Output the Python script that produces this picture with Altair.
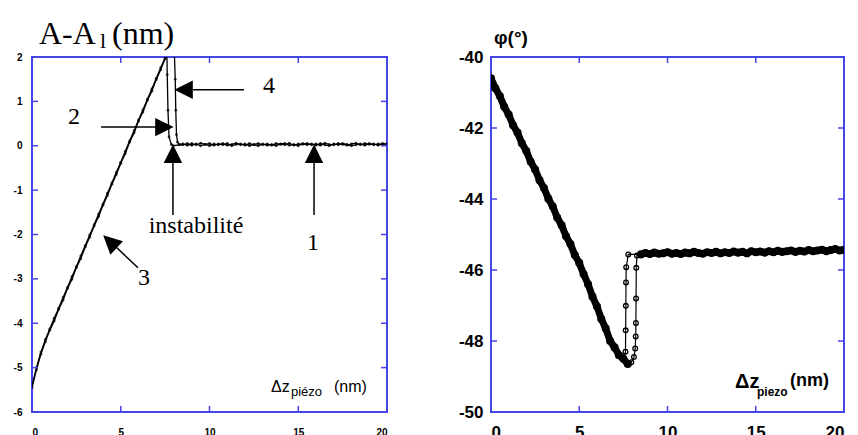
import altair as alt
import pandas as pd

# ---------------- data: left panel  (A - A1 in nm vs Δz piezo in nm) ----------------
ramp_x = [0.0, 0.25, 0.5, 0.75, 1.0, 1.25, 1.5, 1.75, 2.0, 2.25,
          2.5, 2.75, 3.0, 3.25, 3.5, 3.75, 4.0, 4.25, 4.5, 4.75,
          5.0, 5.25, 5.5, 5.75, 6.0, 6.25, 6.5, 6.75, 7.0, 7.25,
          7.5, 7.75]
amp_approach_ramp = [-5.45, -5.05, -4.70, -4.42, -4.16, -3.95, -3.69, -3.48, -3.22, -3.01,
                     -2.75, -2.54, -2.28, -2.06, -1.81, -1.60, -1.34, -1.12, -0.87, -0.65,
                     -0.40, -0.18, 0.08, 0.29, 0.55, 0.76, 1.02, 1.23, 1.49, 1.71,
                     1.96, 2.19]
amp_retract_ramp = [-5.41, -5.00, -4.65, -4.37, -4.13, -3.89, -3.66, -3.42, -3.19, -2.95,
                    -2.72, -2.48, -2.25, -2.01, -1.78, -1.54, -1.31, -1.07, -0.84, -0.60,
                    -0.37, -0.13, 0.11, 0.34, 0.58, 0.81, 1.05, 1.28, 1.52, 1.76,
                    1.99, 2.22]
amp_approach_jump_x = [7.9, 8.02, 8.07, 8.1, 8.14, 8.2, 8.3]
amp_approach_jump_y = [2.35, 2.10, 1.50, 0.80, 0.25, 0.08, 0.03]
amp_retract_jump_x = [8.3, 7.95, 7.85, 7.72, 7.66, 7.62, 7.6]
amp_retract_jump_y = [0.02, 0.00, 0.03, 0.20, 0.80, 1.60, 2.05]
flat_x = [8.5, 8.75, 9.0, 9.25, 9.5, 9.75, 10.0, 10.25, 10.5, 10.75,
          11.0, 11.25, 11.5, 11.75, 12.0, 12.25, 12.5, 12.75, 13.0, 13.25,
          13.5, 13.75, 14.0, 14.25, 14.5, 14.75, 15.0, 15.25, 15.5, 15.75,
          16.0, 16.25, 16.5, 16.75, 17.0, 17.25, 17.5, 17.75, 18.0, 18.25,
          18.5, 18.75, 19.0, 19.25, 19.5, 19.75, 20.0]
amp_approach_flat = [0.04, 0.01, 0.05, 0.02, 0.06, 0.03, 0.00, 0.04, 0.02, 0.05,
                     0.01, 0.03, 0.06, 0.02, 0.04, 0.00, 0.03, 0.05, 0.02, 0.04,
                     0.01, 0.05, 0.03, 0.02, 0.06, 0.01, 0.04, 0.03, 0.05, 0.02,
                     0.04, 0.01, 0.06, 0.03, 0.02, 0.05, 0.03, 0.01, 0.04, 0.06,
                     0.02, 0.05, 0.03, 0.04, 0.01, 0.05, 0.03]
amp_retract_flat = [0.02, 0.05, 0.01, 0.04, 0.00, 0.03, 0.05, 0.01, 0.04, 0.02,
                    0.05, 0.00, 0.03, 0.04, 0.01, 0.05, 0.02, 0.00, 0.04, 0.01,
                    0.03, 0.00, 0.04, 0.05, 0.01, 0.03, 0.00, 0.05, 0.02, 0.04,
                    0.01, 0.05, 0.02, 0.00, 0.04, 0.02, 0.05, 0.03, 0.00, 0.02,
                    0.04, 0.01, 0.05, 0.02, 0.04, 0.03, 0.05]

# ---------------- data: right panel  (phase φ in degrees) ----------------
phi_ramp = [-40.60, -40.88, -41.10, -41.40, -41.62, -41.92, -42.13, -42.43, -42.65, -42.95,
            -43.17, -43.47, -43.69, -43.99, -44.21, -44.52, -44.74, -45.05, -45.27, -45.58,
            -45.80, -46.12, -46.40, -46.75, -47.02, -47.38, -47.65, -48.00, -48.18, -48.40,
            -48.50, -48.65]
phi_flat = [-45.56, -45.52, -45.55, -45.51, -45.54, -45.53, -45.50, -45.54, -45.52, -45.55,
            -45.51, -45.53, -45.49, -45.52, -45.54, -45.50, -45.52, -45.49, -45.53, -45.50,
            -45.52, -45.48, -45.51, -45.49, -45.53, -45.47, -45.50, -45.48, -45.51, -45.47,
            -45.50, -45.46, -45.49, -45.47, -45.45, -45.49, -45.46, -45.48, -45.44, -45.47,
            -45.45, -45.43, -45.47, -45.44, -45.41, -45.45, -45.43]
phi_approach_jump_x = [7.77, 7.95, 8.1, 8.17, 8.2, 8.21, 8.22, 8.23, 8.27, 8.5]
phi_approach_jump_y = [-48.65, -48.60, -48.45, -48.21, -47.87, -47.49, -46.80, -45.94, -45.59, -45.56]
phi_retract_jump_x = [7.55, 7.62, 7.63, 7.64, 7.65, 7.66, 7.78, 8.5]
phi_retract_jump_y = [-48.50, -48.30, -47.70, -47.01, -46.35, -45.92, -45.56, -45.56]

x_ticks = [0, 5, 10, 15, 20]
amp_ticks = [-6, -5, -4, -3, -2, -1, 0, 1, 2]
phi_ticks = [-50, -48, -46, -44, -42, -40]

# annotations of the left panel (data coordinates)
arrow_x = [11.94, 3.89, 7.94, 15.89, 5.97]
arrow_y = [1.26, 0.42, -1.56, -1.56, -2.75]
arrow_x2 = [9.07, 6.99, 7.94, 15.89, 4.78]
arrow_y2 = [1.26, 0.42, -0.39, -0.39, -2.30]
head_x = [8.54, 7.46, 7.94, 15.89, 4.39]
head_y = [1.26, 0.42, -0.18, -0.18, -2.16]
head_angle = [270, 90, 0, 0, 313]
label_text = ["4", "2", "instabilité", "1", "3"]
label_x = [13.35, 2.37, 9.24, 15.83, 6.31]
label_y = [1.35, 0.65, -1.81, -2.19, -2.98]

# ---------------- style ----------------
SANS = "Liberation Sans"
SERIF = "Liberation Serif"
BLUE = "#4646e6"
W1, W2, H = 355, 353, 355
HEAD = "M0,-1L1,1L-1,1Z"

dummy = pd.DataFrame({"k": [0]})


def make_axes(fs, ypad, xpad, ext, yvals):
    ax = alt.Axis(values=x_ticks, ticks=False, domain=False, grid=False, title=None,
                  labelFont=SANS, labelFontWeight="bold", labelFontSize=fs,
                  labelPadding=xpad, labelColor="black", labelExpr="'' + datum.value")
    ay = alt.Axis(values=yvals, ticks=False, domain=False, grid=False, title=None,
                  labelFont=SANS, labelFontWeight="bold", labelFontSize=fs,
                  labelPadding=ypad, labelColor="black", minExtent=ext, maxExtent=ext,
                  labelExpr="'' + datum.value")
    return ax, ay


def tick_layers(ys, sx, sy, ax, ay, W):
    tx = pd.DataFrame({"t": x_ticks})
    ty = pd.DataFrame({"t": ys})
    base_x = alt.Chart(tx).mark_rule(color=BLUE, strokeWidth=1.5)
    base_y = alt.Chart(ty).mark_rule(color=BLUE, strokeWidth=1.5)
    X = alt.X("t:Q", scale=sx, axis=ax)
    Y = alt.Y("t:Q", scale=sy, axis=ay)
    return [
        base_x.encode(x=X, y=alt.value(H), y2=alt.value(H - 6)),
        base_x.encode(x=X, y=alt.value(0), y2=alt.value(6)),
        base_y.encode(y=Y, x=alt.value(0), x2=alt.value(6)),
        base_y.encode(y=Y, x=alt.value(W), x2=alt.value(W - 6)),
    ]


# ---------------- left panel ----------------
rows = []
o = 0
for xv, yv in zip(ramp_x, amp_approach_ramp):
    rows.append(("aller", o, xv, yv)); o += 1
for xv, yv in zip(amp_approach_jump_x, amp_approach_jump_y):
    rows.append(("aller", o, xv, yv)); o += 1
for xv, yv in zip(flat_x, amp_approach_flat):
    rows.append(("aller", o, xv, yv)); o += 1
o = 0
for xv, yv in zip(flat_x[::-1], amp_retract_flat[::-1]):
    rows.append(("retour", o, xv, yv)); o += 1
for xv, yv in zip(amp_retract_jump_x, amp_retract_jump_y):
    rows.append(("retour", o, xv, yv)); o += 1
for xv, yv in zip(ramp_x[::-1], amp_retract_ramp[::-1]):
    rows.append(("retour", o, xv, yv)); o += 1
amp_df = pd.DataFrame(rows, columns=["serie", "ordre", "z", "a"])

sxL = alt.Scale(domain=[0, 20], nice=False, zero=False)
syL = alt.Scale(domain=[-6, 2], nice=False, zero=False)
axL, ayL = make_axes(10, 10, 15, 31, amp_ticks)

amp_lines = alt.Chart(amp_df).mark_line(color="black", strokeWidth=1.3, clip=True).encode(
    x=alt.X("z:Q", scale=sxL, axis=axL),
    y=alt.Y("a:Q", scale=syL, axis=ayL),
    detail="serie:N",
    order="ordre:Q",
)
amp_pts = alt.Chart(amp_df).mark_point(color="black", size=8, filled=True, clip=True).encode(
    x=alt.X("z:Q", scale=sxL, axis=axL), y=alt.Y("a:Q", scale=syL, axis=ayL))

arr_df = pd.DataFrame({"x": arrow_x, "y": arrow_y, "x2": arrow_x2, "y2": arrow_y2})
head_df = pd.DataFrame({"x": head_x, "y": head_y, "ang": head_angle})
lab_df = pd.DataFrame({"x": label_x, "y": label_y, "t": label_text})

arrows = alt.Chart(arr_df).mark_rule(color="black", strokeWidth=1.5).encode(
    x=alt.X("x:Q", scale=sxL, axis=axL), y=alt.Y("y:Q", scale=syL, axis=ayL), x2="x2:Q", y2="y2:Q")
heads = alt.Chart(head_df).mark_point(shape=HEAD, filled=True, color="black", size=340, opacity=1).encode(
    x=alt.X("x:Q", scale=sxL, axis=axL), y=alt.Y("y:Q", scale=syL, axis=ayL),
    angle=alt.Angle("ang:Q", scale=None))
labels = alt.Chart(lab_df).mark_text(font=SERIF, fontSize=24, color="black", baseline="middle").encode(
    x=alt.X("x:Q", scale=sxL, axis=axL), y=alt.Y("y:Q", scale=syL, axis=ayL), text="t:N")

left_title = [
    alt.Chart(dummy).mark_text(font=SERIF, fontSize=32, align="left", baseline="alphabetic", color="black")
    .encode(x=alt.value(7), y=alt.value(-13), text=alt.value("A-A")),
    alt.Chart(dummy).mark_text(font=SERIF, fontSize=22, align="left", baseline="alphabetic", color="black")
    .encode(x=alt.value(68), y=alt.value(-9), text=alt.value("l")),
    alt.Chart(dummy).mark_text(font=SERIF, fontSize=32, align="left", baseline="alphabetic", color="black")
    .encode(x=alt.value(80), y=alt.value(-13), text=alt.value("(nm)")),
]
left_xlabel = [
    alt.Chart(dummy).mark_text(font=SANS, fontSize=16, align="left", baseline="alphabetic", color="black")
    .encode(x=alt.value(239), y=alt.value(335), text=alt.value("Δz")),
    alt.Chart(dummy).mark_text(font=SANS, fontSize=13, align="left", baseline="alphabetic", color="black")
    .encode(x=alt.value(259), y=alt.value(339), text=alt.value("piézo")),
    alt.Chart(dummy).mark_text(font=SANS, fontSize=16, align="left", baseline="alphabetic", color="black")
    .encode(x=alt.value(302), y=alt.value(335), text=alt.value("(nm)")),
]

left = alt.layer(
    amp_lines, amp_pts, arrows, heads, labels,
    *tick_layers(amp_ticks, sxL, syL, axL, ayL, W1),
    *left_title, *left_xlabel,
).properties(width=W1, height=H)

# ---------------- right panel ----------------
band_rows = [("rampe", i, xv, yv) for i, (xv, yv) in enumerate(zip(ramp_x, phi_ramp))]
band_rows += [("plateau", i, xv, yv) for i, (xv, yv) in enumerate(zip(flat_x, phi_flat))]
band_df = pd.DataFrame(band_rows, columns=["serie", "ordre", "z", "phi"])
jump_rows = [("aller", i, xv, yv) for i, (xv, yv) in enumerate(zip(phi_approach_jump_x, phi_approach_jump_y))]
jump_rows += [("retour", i, xv, yv) for i, (xv, yv) in enumerate(zip(phi_retract_jump_x, phi_retract_jump_y))]
jump_df = pd.DataFrame(jump_rows, columns=["serie", "ordre", "z", "phi"])

sxR = alt.Scale(domain=[0, 20], nice=False, zero=False)
syR = alt.Scale(domain=[-50, -40], nice=False, zero=False)
axR, ayR = make_axes(17, 8, 12, 36, phi_ticks)

band_line = alt.Chart(band_df).mark_line(color="black", strokeWidth=7, clip=True).encode(
    x=alt.X("z:Q", scale=sxR, axis=axR),
    y=alt.Y("phi:Q", scale=syR, axis=ayR),
    detail="serie:N", order="ordre:Q")
band_pts = alt.Chart(band_df).mark_circle(color="black", size=65, opacity=1, clip=True).encode(
    x=alt.X("z:Q", scale=sxR, axis=axR), y=alt.Y("phi:Q", scale=syR, axis=ayR))
jump_line = alt.Chart(jump_df).mark_line(color="black", strokeWidth=1.2, clip=True).encode(
    x=alt.X("z:Q", scale=sxR, axis=axR), y=alt.Y("phi:Q", scale=syR, axis=ayR),
    detail="serie:N", order="ordre:Q")
jump_pts = alt.Chart(jump_df).mark_point(color="black", size=22, strokeWidth=1.3, filled=False,
                                         opacity=1, clip=True).encode(
    x=alt.X("z:Q", scale=sxR, axis=axR), y=alt.Y("phi:Q", scale=syR, axis=ayR))

right_title = alt.Chart(dummy).mark_text(font=SANS, fontSize=19, fontWeight="bold", align="left",
                                         baseline="alphabetic", color="black").encode(
    x=alt.value(3), y=alt.value(-13), text=alt.value("φ(°)"))
right_xlabel = [
    alt.Chart(dummy).mark_text(font=SANS, fontSize=20, fontWeight="bold", align="left",
                               baseline="alphabetic", color="black")
    .encode(x=alt.value(244), y=alt.value(331), text=alt.value("Δz")),
    alt.Chart(dummy).mark_text(font=SANS, fontSize=12, fontWeight="bold", align="left",
                               baseline="alphabetic", color="black")
    .encode(x=alt.value(266), y=alt.value(339), text=alt.value("piezo")),
    alt.Chart(dummy).mark_text(font=SANS, fontSize=18, fontWeight="bold", align="left",
                               baseline="alphabetic", color="black")
    .encode(x=alt.value(299), y=alt.value(329), text=alt.value("(nm)")),
]

right = alt.layer(
    band_line, band_pts, jump_line, jump_pts,
    *tick_layers(phi_ticks, sxR, syR, axR, ayR, W2),
    right_title, *right_xlabel,
).properties(width=W2, height=H)

chart = alt.hconcat(left, right, spacing=65).properties(
    padding={"left": 0, "top": 17, "right": 0, "bottom": 0},
    background="white",
).configure_view(stroke=BLUE, strokeWidth=2)

chart.save("out.html", embed_options={"renderer": "svg", "actions": False})
